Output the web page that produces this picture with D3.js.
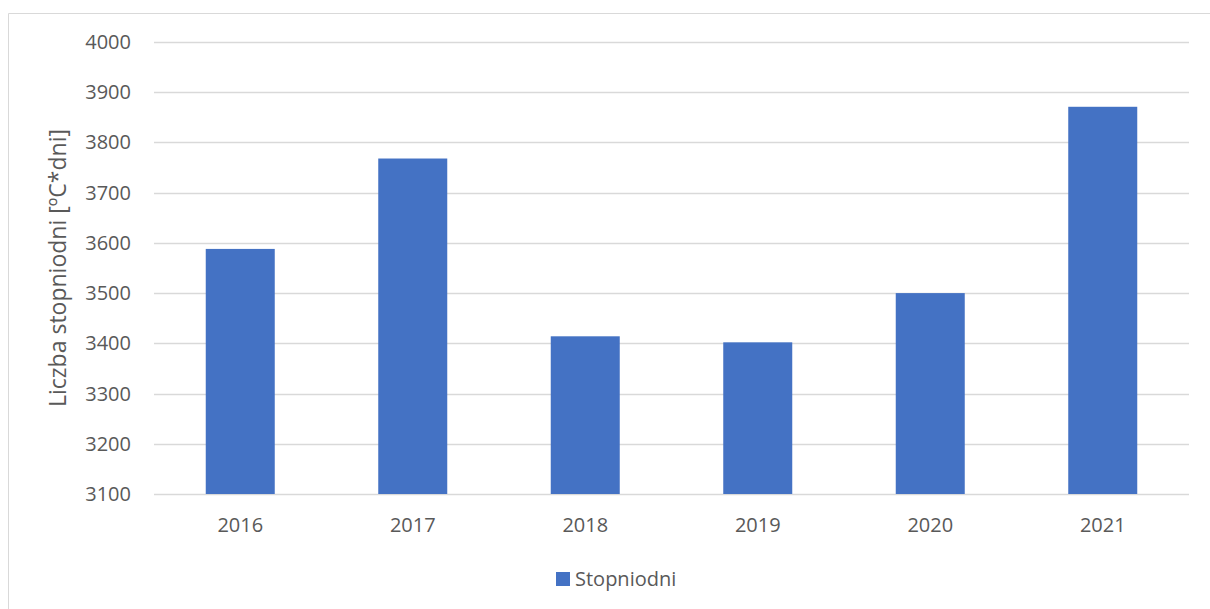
<!DOCTYPE html>
<meta charset="utf-8">
<head>
  <style>
    body { margin: 0; background: #fff; }
    text { font-family: "Open Sans", "Liberation Sans", sans-serif; fill: #595959; }
  </style>
  <script src="https://cdn.jsdelivr.net/npm/d3@7"></script>
</head>
<body>
<script>
  // data
  const years = ["2016", "2017", "2018", "2019", "2020", "2021"];
  const stopniodni = [3588, 3768, 3414, 3402, 3500, 3871];
  const yTicks = [3100, 3200, 3300, 3400, 3500, 3600, 3700, 3800, 3900, 4000];
  const seriesName = "Stopniodni";
  const yLabel = "Liczba stopniodni [ºC*dni]";

  const W = 1210, H = 609;
  const svg = d3.select("body").append("svg")
    .attr("width", W)
    .attr("height", H);

  // chart frame (only top and left edges visible in the crop)
  svg.append("path")
    .attr("d", "M8.5,609 L8.5,13.5 L1210,13.5")
    .attr("fill", "none")
    .attr("stroke", "#d9d9d9")
    .attr("stroke-width", 1);

  const plotL = 154, plotR = 1189, plotT = 42, plotB = 494;

  const x = d3.scaleBand()
    .domain(years)
    .range([plotL, plotR])
    .paddingInner(0.6)
    .paddingOuter(0.3);

  const y = d3.scaleLinear()
    .domain([3100, 4000])
    .range([plotB, plotT]);

  // gridlines
  svg.append("g")
    .selectAll("line").data(yTicks).enter().append("line")
      .attr("x1", plotL).attr("x2", plotR)
      .attr("y1", d => Math.round(y(d)) + 0.5)
      .attr("y2", d => Math.round(y(d)) + 0.5)
      .attr("stroke", "#d9d9d9")
      .attr("stroke-width", 1.3);

  // y tick labels
  svg.append("g")
    .selectAll("text").data(yTicks).enter().append("text")
      .attr("x", 131)
      .attr("y", d => y(d))
      .attr("dy", "0.35em")
      .attr("text-anchor", "end")
      .style("font-size", "20px")
      .text(d => d);

  // bars
  svg.append("g")
    .selectAll("rect").data(stopniodni).enter().append("rect")
      .attr("x", (d, i) => x(years[i]))
      .attr("width", x.bandwidth())
      .attr("y", d => y(d))
      .attr("height", d => y(3100) - y(d))
      .attr("fill", "#4472c4");

  // x labels
  svg.append("g")
    .selectAll("text").data(years).enter().append("text")
      .attr("x", d => x(d) + x.bandwidth() / 2)
      .attr("y", 532)
      .attr("text-anchor", "middle")
      .style("font-size", "20px")
      .text(d => d);

  // y axis title
  svg.append("text")
    .attr("transform", "translate(66," + ((plotT + plotB) / 2) + ") rotate(-90)")
    .attr("text-anchor", "middle")
    .style("font-size", "23px")
    .text(yLabel);

  // legend
  const lg = svg.append("g").attr("transform", "translate(556,579)");
  lg.append("rect")
    .attr("x", 0).attr("y", -7)
    .attr("width", 14).attr("height", 14)
    .attr("fill", "#4472c4");
  lg.append("text")
    .attr("x", 19)
    .attr("y", 0)
    .attr("dy", "0.35em")
    .style("font-size", "20px")
    .text(seriesName);
</script>
</body>
</html>
